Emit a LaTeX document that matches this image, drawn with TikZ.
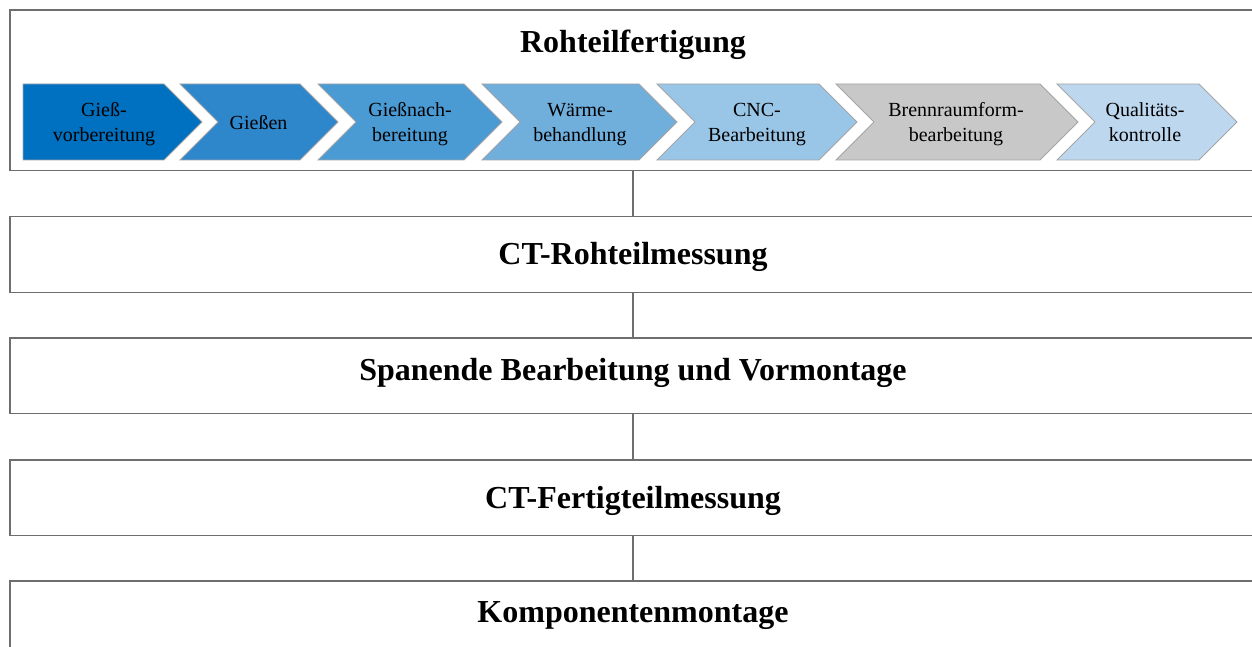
\documentclass[tikz,border=0pt]{standalone}
\usepackage{fontspec}
\setmainfont{Liberation Serif}
\definecolor{cA}{RGB}{0,112,192}
\definecolor{cB}{RGB}{46,134,203}
\definecolor{cC}{RGB}{74,154,211}
\definecolor{cD}{RGB}{112,174,220}
\definecolor{cE}{RGB}{153,197,230}
\definecolor{cF}{RGB}{200,200,200}
\definecolor{cG}{RGB}{189,215,238}
\definecolor{chevgray}{RGB}{165,165,165}
\definecolor{boxgray}{RGB}{110,110,110}
\begin{document}
\begin{tikzpicture}[x=1pt,y=-1pt,
  box/.style={draw=boxgray, line width=1.5pt, fill=white, minimum width=1246pt, inner sep=0pt, anchor=center},
  title/.style={font=\fontsize{32}{38}\selectfont\bfseries, anchor=base, inner sep=0pt},
  ctext/.style={font=\fontsize{20}{25}\selectfont, align=center, inner sep=0pt, anchor=center},
  chev/.style={draw=chevgray, line width=0.8pt, line join=miter},
  conn/.style={draw=boxgray, line width=1.5pt}]
\useasboundingbox (0,0) rectangle (1252,647);
\clip (0,0) rectangle (1252,647);
\fill[white] (0,0) rectangle (1252,647);
% boxes
\node[box, minimum height=160.5pt] (b0) at (633,90.25) {};
\node[box, minimum height=76pt] (b1) at (633,254.7) {};
\node[box, minimum height=75.5pt] (b2) at (633,375.8) {};
\node[box, minimum height=75.5pt] (b3) at (633,497.7) {};
\node[box, minimum height=76pt] (b4) at (633,619) {};
% connectors
\draw[conn] (b0.south) -- (b1.north);
\draw[conn] (b1.south) -- (b2.north);
\draw[conn] (b2.south) -- (b3.north);
\draw[conn] (b3.south) -- (b4.north);
% titles
\node[title] (t0) at (633,53) {Rohteilfertigung};
\node[title] (t1) at (633,264.5) {CT-Rohteilmessung};
\node[title] (t2) at (633,380.5) {Spanende Bearbeitung und Vormontage};
\node[title] (t3) at (633,508) {CT-Fertigteilmessung};
\node[title] (t4) at (633,622.5) {Komponentenmontage};
% chevrons
\path[chev,fill=cA] (23,84) -- (164,84) -- (202,122) -- (164,160) -- (23,160) -- cycle;
\path[chev,fill=cB] (180,84) -- (300,84) -- (338,122) -- (300,160) -- (180,160) -- (218,122) -- cycle;
\path[chev,fill=cC] (318,84) -- (464,84) -- (502,122) -- (464,160) -- (318,160) -- (356,122) -- cycle;
\path[chev,fill=cD] (482,84) -- (639,84) -- (677,122) -- (639,160) -- (482,160) -- (520,122) -- cycle;
\path[chev,fill=cE] (657,84) -- (819,84) -- (857,122) -- (819,160) -- (657,160) -- (695,122) -- cycle;
\path[chev,fill=cF] (836,84) -- (1040,84) -- (1078,122) -- (1040,160) -- (836,160) -- (874,122) -- cycle;
\path[chev,fill=cG] (1057,84) -- (1199,84) -- (1237,122) -- (1199,160) -- (1057,160) -- (1095,122) -- cycle;
% chevron texts
\node[ctext] (s1) at (104,124.5) {Gieß-\strut\\vorbereitung\strut};
\node[ctext, anchor=base] (s2) at (258.5,130) {Gießen};
\node[ctext] (s3) at (410,124.5) {Gießnach-\strut\\bereitung\strut};
\node[ctext] (s4) at (580,124.5) {Wärme-\strut\\behandlung\strut};
\node[ctext] (s5) at (757,124.5) {CNC-\strut\\Bearbeitung\strut};
\node[ctext] (s6) at (956,124.5) {Brennraumform-\strut\\bearbeitung\strut};
\node[ctext] (s7) at (1145,124.5) {Qualitäts-\strut\\kontrolle\strut};
\end{tikzpicture}
\end{document}
